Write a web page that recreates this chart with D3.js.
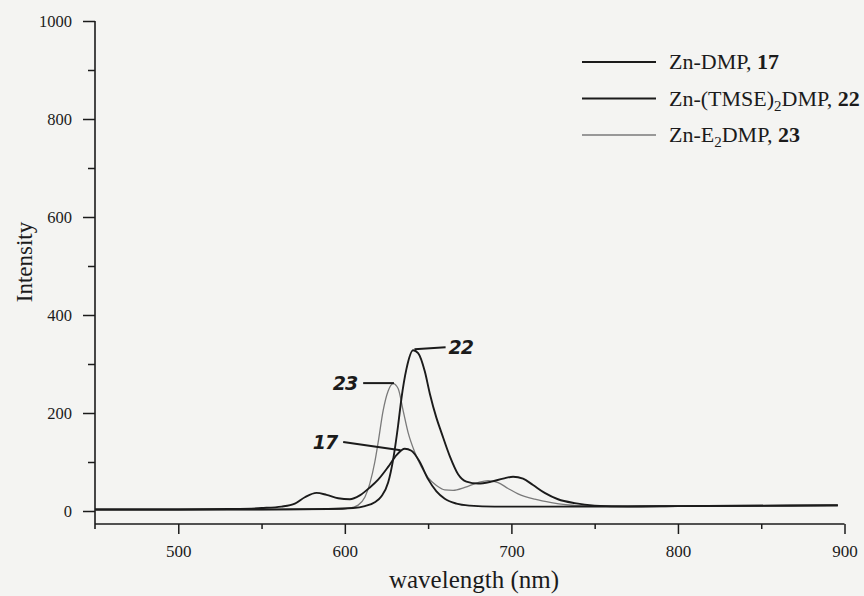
<!DOCTYPE html>
<html lang="en">
<head>
<meta charset="utf-8">
<script src="https://cdn.jsdelivr.net/npm/d3@7"></script>
<style>
  body { margin: 0; background: #f4f4f2; }
  svg { display: block; font-family: "Liberation Serif", "Times New Roman", serif; }
</style>
</head>
<body>
<svg id="chart" width="864" height="596"></svg>
<script>
// emission spectra (wavelength in nm, intensity)
var wl17 = [450, 500, 530, 550, 562, 570, 576, 583, 589, 596, 603, 609, 615, 620, 626, 631, 636, 640, 645, 650, 655, 660, 667, 675, 690, 720, 800, 896];
var int17 = [3, 3, 4, 6, 9, 15, 28, 37, 33, 26, 24, 32, 48, 64, 90, 114, 127, 123, 100, 65, 40, 25, 15, 11, 9, 9, 10, 11];

var wl22 = [450, 550, 590, 605, 612, 618, 622, 626, 629, 632, 634, 637, 641, 644, 648, 651, 655, 658, 663, 668, 673, 680, 688, 695, 701, 707, 713, 720, 728, 738, 750, 770, 800, 896];
var int22 = [3, 3, 4, 6, 10, 18, 30, 58, 105, 175, 230, 290, 328, 322, 285, 240, 190, 160, 112, 75, 60, 56, 60, 66, 70, 66, 53, 37, 24, 16, 11, 9, 10, 12];

var wl23 = [450, 560, 595, 603, 608, 612, 615, 618, 620, 623, 626, 629, 632, 635, 638, 642, 646, 650, 655, 660, 665, 672, 680, 686, 692, 698, 704, 714, 724, 740, 760, 800, 896];
var int23 = [3, 3, 4, 6, 12, 28, 56, 100, 140, 205, 245, 260, 250, 205, 160, 120, 90, 68, 52, 43, 42, 48, 58, 62, 58, 46, 35, 24, 17, 11, 10, 10, 12];

var xTicks = [500, 600, 700, 800, 900];
var yTicks = [0, 200, 400, 600, 800, 1000];

var series = [
  { name: "Zn-DMP, ", num: "17", wl: wl17, val: int17, color: "#1b1b1b", width: 1.9 },
  { name: "Zn-(TMSE)", sub: "2", after: "DMP, ", num: "22", wl: wl22, val: int22, color: "#1b1b1b", width: 1.9 },
  { name: "Zn-E", sub: "2", after: "DMP, ", num: "23", wl: wl23, val: int23, color: "#7a7a7a", width: 1.3 }
];

var svg = d3.select("#chart");

var x = d3.scaleLinear().domain([450, 900]).range([95, 844.5]);
var y = d3.scaleLinear().domain([0, 1000]).range([511, 21]);
var axisY = 524;

// y axis
svg.append("g")
    .attr("transform", "translate(95,0)")
    .call(d3.axisLeft(y).tickValues(d3.range(100, 1000, 200)).tickSize(7).tickFormat(""))
    .call(function(g) { g.select(".domain").remove(); });

svg.append("g")
    .attr("class", "yaxis")
    .attr("transform", "translate(95,0)")
    .call(d3.axisLeft(y).tickValues(yTicks).tickSize(12).tickPadding(11).tickFormat(d3.format("d")))
    .call(function(g) { g.select(".domain").remove(); });

svg.append("line")
    .attr("x1", 95).attr("x2", 95)
    .attr("y1", y(1000)).attr("y2", axisY + 5)
    .attr("stroke", "#1b1b1b").attr("stroke-width", 1.6);

// x axis
svg.append("g")
    .attr("transform", "translate(0," + axisY + ")")
    .call(d3.axisBottom(x).tickValues(d3.range(550, 900, 100)).tickSize(5).tickFormat(""))
    .call(function(g) { g.select(".domain").remove(); });

svg.append("g")
    .attr("class", "xaxis")
    .attr("transform", "translate(0," + axisY + ")")
    .call(d3.axisBottom(x).tickValues(xTicks).tickSize(10).tickPadding(11).tickFormat(d3.format("d")))
    .call(function(g) { g.select(".domain").remove(); });

svg.append("line")
    .attr("x1", 95).attr("x2", x(900))
    .attr("y1", axisY).attr("y2", axisY)
    .attr("stroke", "#1b1b1b").attr("stroke-width", 1.6);

svg.selectAll(".tick line").attr("stroke", "#1b1b1b").attr("stroke-width", 1.5);
svg.selectAll(".yaxis .tick text").style("font-size", "16.5px");
svg.selectAll(".xaxis .tick text").style("font-size", "17px");
svg.selectAll(".tick text")
    .attr("fill", "#1b1b1b")
    .style("font-family", "'Liberation Serif', serif");

// curves
var line = d3.line()
    .x(function(d) { return x(d[0]); })
    .y(function(d) { return y(d[1]); })
    .curve(d3.curveMonotoneX);

// draw gray one first so the black ones sit over it
[series[2], series[0], series[1]].forEach(function(s) {
  svg.append("path")
      .attr("d", line(d3.zip(s.wl, s.val)))
      .attr("fill", "none")
      .attr("stroke", s.color)
      .attr("stroke-width", s.width)
      .attr("stroke-linejoin", "round");
});

// hand-written labels on the peaks
var notes = [
  { label: "22", from: [641.8, 330], to: [660.5, 334] },
  { label: "23", from: [629.5, 261], to: [611, 261] },
  { label: "17", from: [633.5, 124], to: [599, 141] }
];
notes.forEach(function(n) {
  svg.append("line")
      .attr("x1", x(n.from[0])).attr("y1", y(n.from[1]))
      .attr("x2", x(n.to[0])).attr("y2", y(n.to[1]))
      .attr("stroke", "#1b1b1b").attr("stroke-width", 2);
  var right = n.to[0] > n.from[0];
  svg.append("text")
      .attr("x", x(n.to[0]) + (right ? 3 : -6))
      .attr("y", y(n.to[1]) + 7)
      .attr("text-anchor", right ? "start" : "end")
      .attr("fill", "#1b1b1b")
      .style("font-size", "19px")
      .style("font-style", "italic")
      .style("font-weight", "bold")
      .style("letter-spacing", "-1px")
      .style("font-family", "'DejaVu Sans', sans-serif")
      .text(n.label);
});

// legend
var legend = svg.append("g").attr("transform", "translate(582,62)");
series.forEach(function(s, i) {
  var row = legend.append("g").attr("transform", "translate(0," + (i * 36.5) + ")");
  row.append("line")
      .attr("x1", 0).attr("x2", 74)
      .attr("stroke", s.color).attr("stroke-width", s.width);
  var t = row.append("text")
      .attr("x", 87).attr("y", 7)
      .attr("fill", "#1b1b1b")
      .style("font-size", "22px");
  t.append("tspan").text(s.name);
  if (s.sub) {
    t.append("tspan").attr("dy", 5).style("font-size", "15px").text(s.sub);
    t.append("tspan").attr("dy", -5).text(s.after);
  }
  t.append("tspan").style("font-weight", "bold").text(s.num);
});

// axis titles
svg.append("text")
    .attr("transform", "translate(32,262) rotate(-90)")
    .attr("text-anchor", "middle")
    .attr("fill", "#1b1b1b")
    .style("font-size", "23px")
    .text("Intensity");

svg.append("text")
    .attr("x", 474).attr("y", 588)
    .attr("text-anchor", "middle")
    .attr("fill", "#1b1b1b")
    .style("font-size", "25px")
    .text("wavelength (nm)");
</script>
</body>
</html>
